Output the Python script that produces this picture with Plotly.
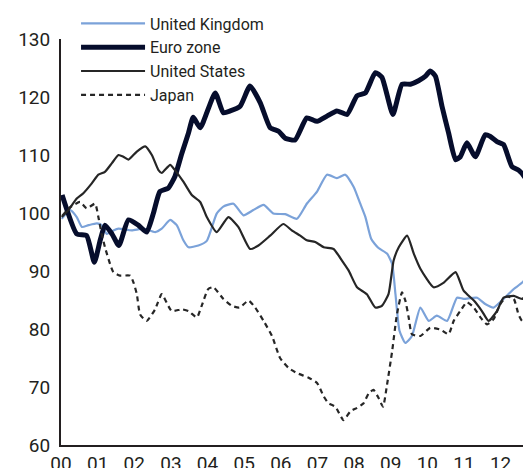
import plotly.graph_objects as go

# ---- data (decimal years, index values) ----
uk_t = [2000.02, 2000.25, 2000.43, 2000.57, 2000.75, 2000.98, 2001.11, 2001.25, 2001.43, 2001.57,
        2001.93, 2002.25, 2002.57, 2002.75, 2002.98, 2003.16, 2003.34, 2003.48, 2003.75, 2003.98,
        2004.25, 2004.43, 2004.71, 2004.98, 2005.25, 2005.53, 2005.80, 2006.12, 2006.44, 2006.71,
        2006.99, 2007.26, 2007.53, 2007.76, 2007.99, 2008.17, 2008.31, 2008.47, 2008.66, 2008.90,
        2009.04, 2009.13, 2009.24, 2009.40, 2009.58, 2009.81, 2010.04, 2010.26, 2010.54, 2010.81,
        2010.99, 2011.36, 2011.58, 2011.81, 2012.08, 2012.36, 2012.59, 2012.83]
uk_v = [99.0, 100.5, 99.3, 97.6, 97.9, 98.2, 97.9, 96.4, 97.0, 97.3,
        97.0, 97.3, 96.7, 97.3, 98.8, 97.9, 95.3, 94.1, 94.4, 95.2,
        99.9, 101.1, 101.6, 99.6, 100.5, 101.4, 99.9, 99.8, 99.0, 101.6,
        103.7, 106.6, 106.0, 106.6, 104.5, 101.6, 99.3, 95.5, 94.0, 93.0,
        91.2, 86.0, 79.7, 77.6, 78.8, 83.7, 81.4, 82.3, 81.4, 85.4,
        85.2, 85.4, 84.3, 83.7, 85.2, 86.9, 88.0, 90.1]

ez_t = [2000.03, 2000.43, 2000.70, 2000.91, 2001.07, 2001.20, 2001.39, 2001.58, 2001.84, 2002.11,
        2002.34, 2002.52, 2002.70, 2002.93, 2003.11, 2003.30, 2003.48, 2003.61, 2003.80, 2004.21,
        2004.43, 2004.62, 2004.89, 2005.16, 2005.44, 2005.71, 2005.94, 2006.12, 2006.39, 2006.71,
        2006.99, 2007.26, 2007.53, 2007.81, 2008.08, 2008.31, 2008.58, 2008.76, 2009.06, 2009.31,
        2009.54, 2009.76, 2009.95, 2010.08, 2010.22, 2010.40, 2010.58, 2010.77, 2010.90, 2011.08,
        2011.31, 2011.58, 2011.72, 2011.90, 2012.08, 2012.31, 2012.49, 2012.68, 2012.83]
ez_v = [103.1, 96.4, 96.1, 91.5, 95.3, 97.9, 96.4, 94.4, 98.8, 97.9,
        96.7, 99.9, 103.7, 104.3, 106.3, 110.3, 113.8, 116.5, 114.7, 120.7,
        117.3, 117.6, 118.4, 121.9, 119.0, 114.7, 114.1, 112.9, 112.6, 116.4,
        115.8, 116.7, 117.6, 117.0, 120.2, 120.7, 124.2, 123.4, 117.0, 122.2,
        122.2, 122.8, 123.6, 124.5, 123.6, 118.4, 113.8, 109.2, 109.7, 112.1,
        109.7, 113.5, 113.2, 112.3, 111.8, 108.0, 107.4, 106.0, 103.7]

us_t = [2000.02, 2000.20, 2000.43, 2000.61, 2000.84, 2001.02, 2001.20, 2001.39, 2001.57, 2001.70,
        2001.84, 2002.07, 2002.30, 2002.48, 2002.66, 2002.75, 2002.98, 2003.11, 2003.34, 2003.57,
        2003.80, 2003.98, 2004.25, 2004.57, 2004.84, 2005.16, 2005.39, 2005.71, 2006.07, 2006.30,
        2006.53, 2006.71, 2006.94, 2007.17, 2007.44, 2007.67, 2007.85, 2008.08, 2008.35, 2008.58,
        2008.76, 2008.94, 2009.08, 2009.22, 2009.45, 2009.63, 2009.81, 2010.17, 2010.45, 2010.77,
        2010.99, 2011.27, 2011.49, 2011.67, 2011.90, 2012.08, 2012.36, 2012.59, 2012.83]
us_v = [99.3, 100.5, 102.5, 103.4, 105.1, 106.6, 107.1, 108.6, 110.0, 109.7,
        109.2, 110.6, 111.5, 110.0, 107.4, 106.9, 108.3, 107.4, 105.4, 103.1,
        101.9, 99.3, 96.7, 99.3, 97.6, 93.8, 94.4, 96.1, 98.1, 97.0,
        96.1, 95.3, 95.0, 94.1, 93.8, 91.8, 90.1, 87.2, 86.0, 83.7,
        84.0, 86.0, 91.8, 94.1, 96.1, 93.0, 90.4, 87.2, 88.0, 89.8,
        86.6, 84.9, 83.1, 81.4, 83.1, 85.4, 85.7, 85.2, 87.2]

jp_t = [2000.03, 2000.25, 2000.52, 2000.70, 2000.93, 2001.02, 2001.11, 2001.20, 2001.34, 2001.43,
        2001.61, 2001.89, 2001.98, 2002.07, 2002.16, 2002.34, 2002.57, 2002.75, 2003.02, 2003.30,
        2003.48, 2003.71, 2003.84, 2004.02, 2004.16, 2004.43, 2004.66, 2004.87, 2005.12, 2005.30,
        2005.53, 2005.76, 2005.98, 2006.21, 2006.44, 2006.76, 2006.99, 2007.17, 2007.30, 2007.49,
        2007.71, 2007.90, 2008.08, 2008.26, 2008.40, 2008.53, 2008.67, 2008.79, 2008.90, 2009.04,
        2009.17, 2009.31, 2009.40, 2009.49, 2009.58, 2009.81, 2010.08, 2010.36, 2010.58, 2010.72,
        2010.90, 2011.08, 2011.27, 2011.45, 2011.63, 2011.81, 2011.99, 2012.17, 2012.36, 2012.49,
        2012.59, 2012.72, 2012.83]
jp_v = [99.5, 101.0, 101.9, 100.8, 101.6, 99.3, 96.4, 94.1, 91.2, 89.8,
        89.2, 89.2, 88.0, 86.0, 82.5, 81.4, 83.4, 86.0, 83.1, 83.4,
        83.1, 82.0, 84.0, 86.9, 87.2, 85.2, 84.0, 83.7, 84.9, 83.7,
        81.4, 78.8, 75.0, 73.3, 72.4, 71.6, 70.7, 68.4, 67.2, 66.6,
        64.3, 65.8, 66.4, 67.2, 68.9, 69.5, 68.1, 66.6, 70.4, 76.2,
        82.5, 86.3, 84.9, 82.0, 79.1, 78.8, 80.2, 79.9, 79.1, 81.4,
        83.1, 84.6, 83.7, 82.0, 80.8, 81.7, 84.3, 85.6, 85.2, 82.5,
        81.4, 82.0, 82.5]

year_ticks = list(range(2000, 2013))
year_labels = ["00", "01", "02", "03", "04", "05", "06", "07", "08", "09", "10", "11", "12"]
y_ticks = [60, 70, 80, 90, 100, 110, 120, 130]

INK = "#231f20"
FONT = "Roboto"

fig = go.Figure()
fig.add_trace(go.Scatter(x=uk_t, y=uk_v, mode="lines", name="United Kingdom",
                         line=dict(color="#7ba2d9", width=2.2, shape="spline", smoothing=0.5)))
fig.add_trace(go.Scatter(x=ez_t, y=ez_v, mode="lines", name="Euro zone",
                         line=dict(color="#060d2c", width=5, shape="spline", smoothing=0.5)))
fig.add_trace(go.Scatter(x=us_t, y=us_v, mode="lines", name="United States",
                         line=dict(color="#262626", width=2.2, shape="spline", smoothing=0.5)))
fig.add_trace(go.Scatter(x=jp_t, y=jp_v, mode="lines", name="Japan",
                         line=dict(color="#262626", width=2.2, dash="5px,4px", shape="spline", smoothing=0.5)))

fig.update_layout(
    width=531, height=468,
    margin=dict(l=53, r=8, t=31, b=31, autoexpand=False),
    paper_bgcolor="white", plot_bgcolor="white",
    font=dict(family=FONT, color=INK, size=19),
    showlegend=True,
    legend=dict(x=0.032, y=1.08, xanchor="left", yanchor="top",
                bgcolor="rgba(0,0,0,0)", font=dict(family=FONT, size=16, color=INK),
                itemwidth=64, tracegroupgap=0),
    xaxis=dict(range=[2000, 2012.83], tickvals=year_ticks, ticktext=year_labels,
               showgrid=False, zeroline=False, showline=True, linecolor=INK, linewidth=2,
               ticks="", ticklabelstandoff=0, automargin=False, tickfont=dict(size=19, color=INK)),
    yaxis=dict(range=[60, 130], tickvals=y_ticks, showgrid=False, zeroline=False,
               showline=True, linecolor=INK, linewidth=2, ticks="", ticklabelstandoff=5,
               automargin=False, tickfont=dict(size=19, color=INK)),
)

fig.write_html("out.html")
